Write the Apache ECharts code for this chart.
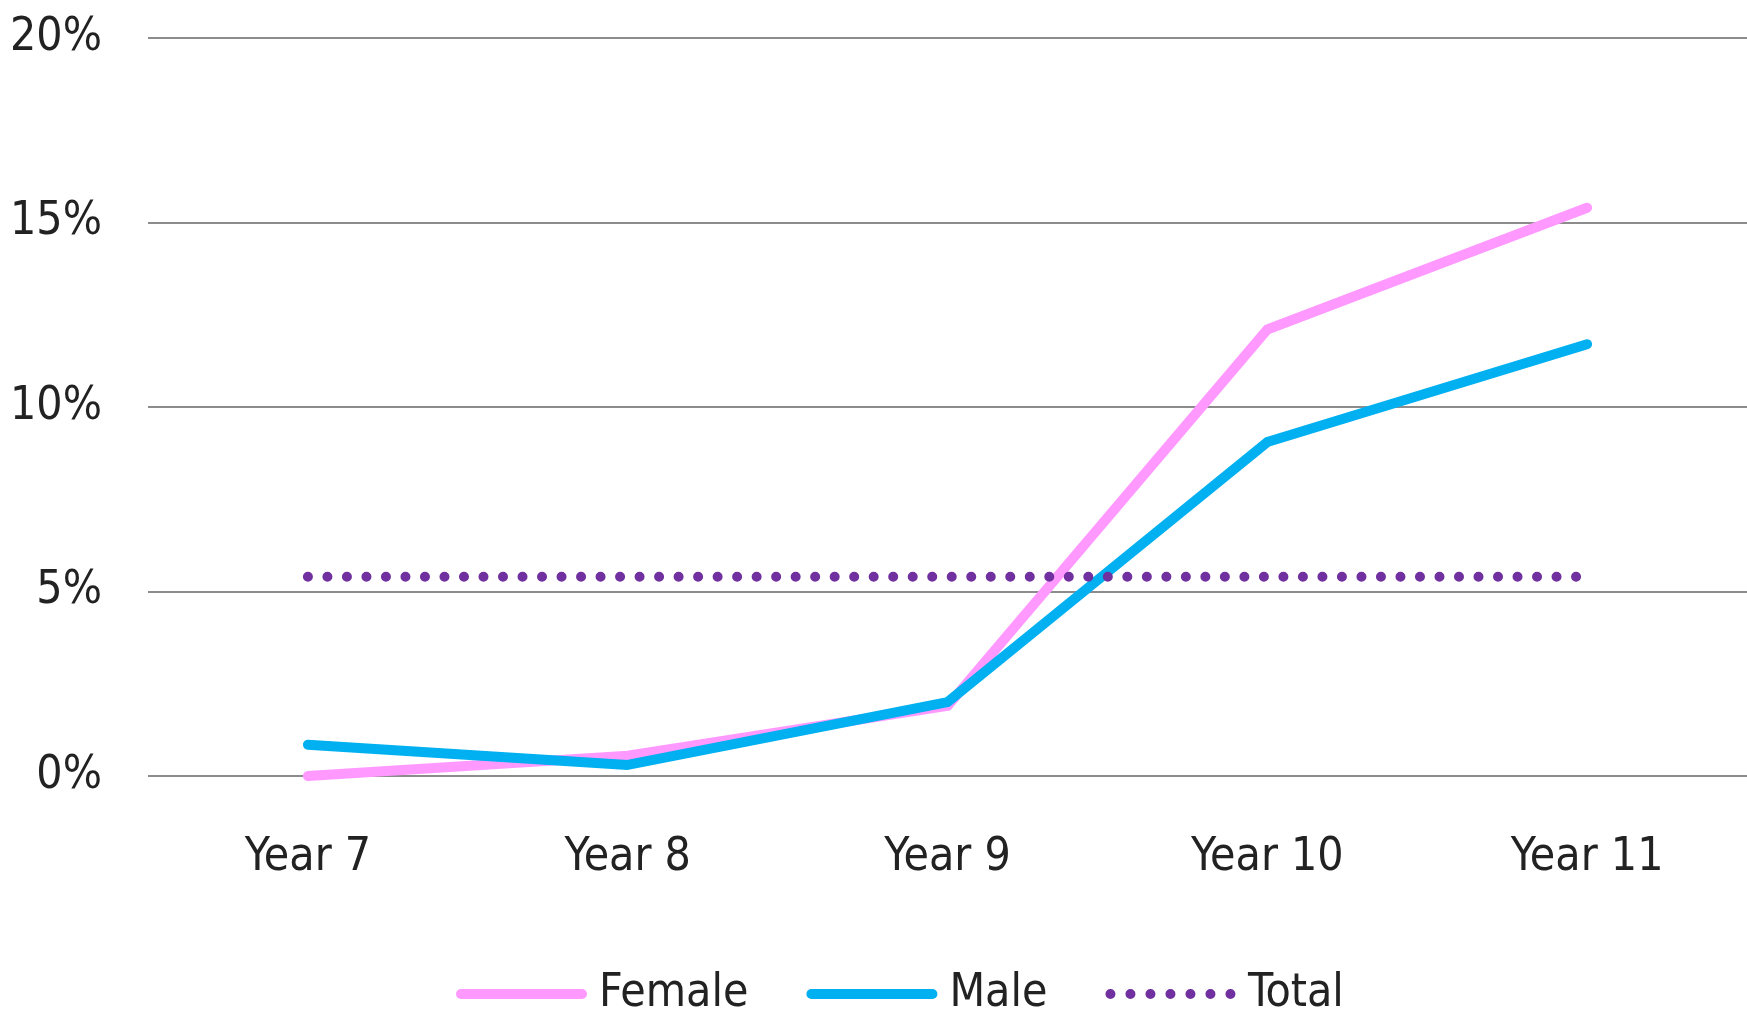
<!DOCTYPE html>
<html>
<head>
<meta charset="utf-8">
<style>
  html, body { margin: 0; padding: 0; background: #ffffff; }
  #chart { width: 1747px; height: 1014px; }
</style>
<script src="https://cdn.jsdelivr.net/npm/echarts@6/dist/echarts.min.js"></script>
</head>
<body>
<div id="chart"></div>
<script>
// School year groups along the x axis
const categories = ['Year 7', 'Year 8', 'Year 9', 'Year 10', 'Year 11'];

// Percentages per year group
const femaleValues = [0, 0.55, 1.9, 12.1, 15.4];
const maleValues = [0.85, 0.3, 2.0, 9.05, 11.7];
const totalValues = [5.4, 5.4, 5.4, 5.4, 5.4];

// Value axis ticks
const yMin = 0;
const yMax = 20;
const yStep = 5;

const FONT = '"Liberation Sans Narrow", "DejaVu Sans Condensed", "Liberation Sans", sans-serif';
const TEXT_COLOR = '#222222';

// Legend swatches: a thick rounded bar and a row of round dots
const BAR_ICON = 'path://M5,0 H126 A5,5 0 0 1 126,10 H5 A5,5 0 0 1 5,0 Z';
const DOT_ICON = 'path://' + [0, 1, 2, 3, 4, 5, 6].map(function (i) {
  const cx = 5 + i * 20;
  return 'M' + (cx - 5) + ',5 A5,5 0 1 0 ' + (cx + 5) + ',5 A5,5 0 1 0 ' + (cx - 5) + ',5 Z';
}).join(' ');

const chart = echarts.init(document.getElementById('chart'), null, { renderer: 'canvas' });

chart.setOption({
  animation: false,
  backgroundColor: '#ffffff',
  grid: {
    left: 148,
    right: 0,
    top: 38,
    bottom: 238,
    containLabel: false
  },
  xAxis: {
    type: 'category',
    data: categories,
    boundaryGap: true,
    axisLine: { show: false },
    axisTick: { show: false },
    splitLine: { show: false },
    axisLabel: {
      margin: 52,
      fontFamily: FONT,
      fontSize: 46,
      lineHeight: 60,
      color: TEXT_COLOR
    }
  },
  yAxis: {
    type: 'value',
    min: yMin,
    max: yMax,
    interval: yStep,
    axisLine: { show: false },
    axisTick: { show: false },
    axisLabel: {
      margin: 46,
      fontFamily: FONT,
      fontSize: 46,
      color: TEXT_COLOR,
      formatter: '{value}%'
    },
    splitLine: {
      show: true,
      lineStyle: { color: '#8c8c8c', width: 2 }
    }
  },
  legend: {
    left: 451,
    top: 959,
    itemWidth: 131,
    itemHeight: 10,
    itemGap: 58,
    textStyle: {
      fontFamily: FONT,
      fontSize: 46,
      lineHeight: 60,
      color: TEXT_COLOR,
      padding: [0, 0, 0, 7]
    },
    data: [
      { name: 'Female', icon: BAR_ICON },
      { name: 'Male', icon: BAR_ICON },
      { name: 'Total', icon: DOT_ICON }
    ]
  },
  series: [
    {
      name: 'Female',
      type: 'line',
      data: femaleValues,
      symbol: 'none',
      color: '#ff99ff',
      lineStyle: { color: '#ff99ff', width: 10, cap: 'round', join: 'round' },
      z: 2
    },
    {
      name: 'Male',
      type: 'line',
      data: maleValues,
      symbol: 'none',
      color: '#00b0f0',
      lineStyle: { color: '#00b0f0', width: 10, cap: 'round', join: 'round' },
      z: 3
    },
    {
      name: 'Total',
      type: 'line',
      data: totalValues,
      symbol: 'none',
      color: '#7030a0',
      lineStyle: { color: '#7030a0', width: 10, type: [0.01, 19.5], cap: 'round' },
      z: 4
    }
  ]
});
</script>
</body>
</html>
